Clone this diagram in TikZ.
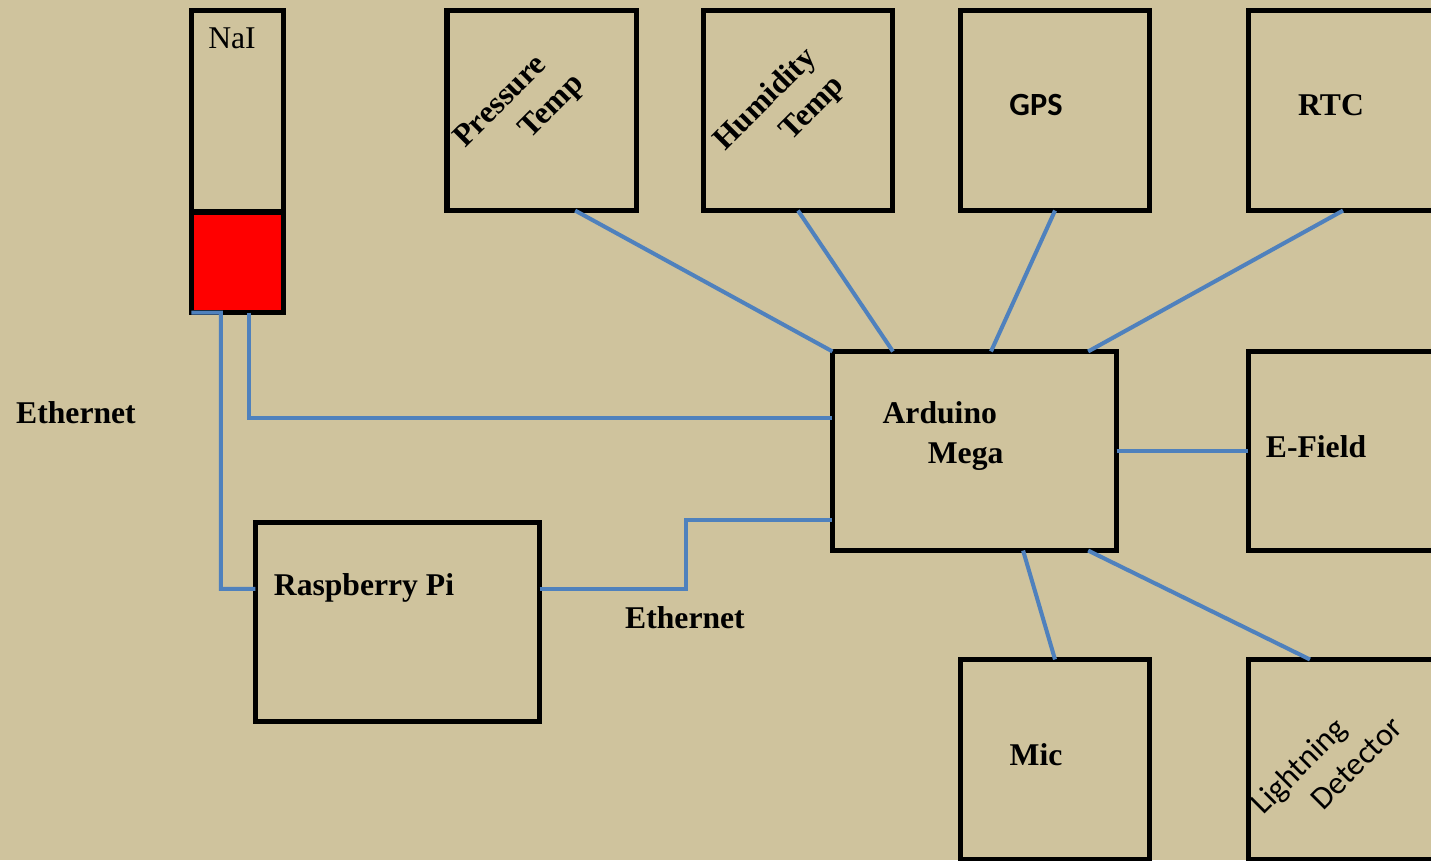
\documentclass[tikz,border=0pt]{standalone}
\usepackage{fontspec}
\setmainfont{Liberation Serif}
\newfontfamily\calibri{Carlito}
\usetikzlibrary{calc}
\definecolor{sand}{RGB}{207,195,157}
\definecolor{wire}{RGB}{79,129,189}

\begin{document}
\begin{tikzpicture}[x=0.01cm, y=-0.01cm,
    box/.style={draw, line width=1.45pt, outer sep=0pt, inner sep=0pt,
        minimum width=1.89cm, minimum height=2cm},
    wide/.style={box, minimum width=2.84cm, minimum height=1.99cm},
    link/.style={wire, line width=1.15pt},
    lbl/.style={font=\fontsize{9}{11.4}\selectfont\bfseries, inner sep=0pt, align=left},
    slant/.style={lbl, rotate=45, font=\fontsize{9}{11.2}\selectfont\bfseries}]
    \useasboundingbox (0,0) rectangle (1431,860);
    \fill[sand] (0,0) rectangle (1431,860);
    \clip (0,0) rectangle (1431,860);

    % boxes
    \node[box, minimum width=0.92cm, minimum height=3.02cm] (nai) at (237.5,161.5) {};
    \filldraw[fill=red, line width=1.45pt]
        (nai.south west) rectangle ($(nai.south east)!0.333!(nai.north east)$);
    \node[box] (pt) at (541.5,110.5) {};
    \node[box] (hum) at (798,110.5) {};
    \node[box] (gps) at (1055,110.5) {};
    \node[box] (rtc) at (1343,110.5) {};
    \node[wide] (ard) at (974.5,451) {};
    \node[box, minimum height=1.99cm] (ef) at (1343,451) {};
    \node[box] (mic) at (1055,759.5) {};
    \node[box] (ld) at (1343,759.5) {};
    \node[wide] (rpi) at (397.5,622) {};

    % labels
    \node[lbl, font=\fontsize{9}{11.4}\selectfont] (nai-t) at (232,38) {NaI};
    \node[slant] (pt-t) at (520,112) {Pressure\\\hspace*{1.68em}Temp};
    \node[slant] (hum-t) at (780,114) {Humidity\\\hspace*{1.7em}Temp};
    \node[lbl, font=\fontsize{9.2}{11}\selectfont\calibri\bfseries] (gps-t) at (1036,105) {GPS};
    \node[lbl] (rtc-t) at (1331,105) {RTC};
    \node[lbl] (ard-t) at (943,436) {Arduino\\\hspace*{1.43em}Mega};
    \node[lbl] (ef-t) at (1316,447) {E-Field};
    \node[lbl] (mic-t) at (1036,755) {Mic};
    \node[slant, font=\fontsize{9.2}{11}\selectfont\calibri] (ld-t) at (1326,765)
        {Lightning\\\hspace*{1.41em}Detector};
    \node[lbl] (rpi-t) at (364,588) {Raspberry Pi};
    \node[lbl] (eth-a) at (76,413) {Ethernet};
    \node[lbl] (eth-b) at (685,618) {Ethernet};

    % wires
    \draw[link] ($(pt.south west)!0.678!(pt.south east)$) -- (ard.north west);
    \draw[link] (hum.south) -- ($(ard.north west)!0.213!(ard.north east)$);
    \draw[link] (gps.south) -- ($(ard.north west)!0.558!(ard.north east)$);
    \draw[link] (rtc.south) -- ($(ard.north west)!0.9!(ard.north east)$);
    \draw[link] (ard.east) -- (ef.west);
    \draw[link] ($(ard.south west)!0.671!(ard.south east)$) -- (mic.north);
    \draw[link] ($(ard.south west)!0.9!(ard.south east)$)
        -- ($(ld.north west)!0.325!(ld.north east)$);
    \draw[link] ($(nai.south west)!0.625!(nai.south east)$)
        |- ($(ard.north west)!0.334!(ard.south west)$);
    \draw[link] (nai.south west) -- ($(nai.south west)!0.32!(nai.south east)$)
        |- ($(rpi.north west)!0.334!(rpi.south west)$);
    \coordinate (rpi-e) at ($(rpi.north east)!0.334!(rpi.south east)$);
    \coordinate (ard-w) at ($(ard.north west)!0.847!(ard.south west)$);
    \draw[link] (rpi-e) -| ($(rpi-e)!0.5!(ard-w)$) |- (ard-w);
\end{tikzpicture}
\end{document}
